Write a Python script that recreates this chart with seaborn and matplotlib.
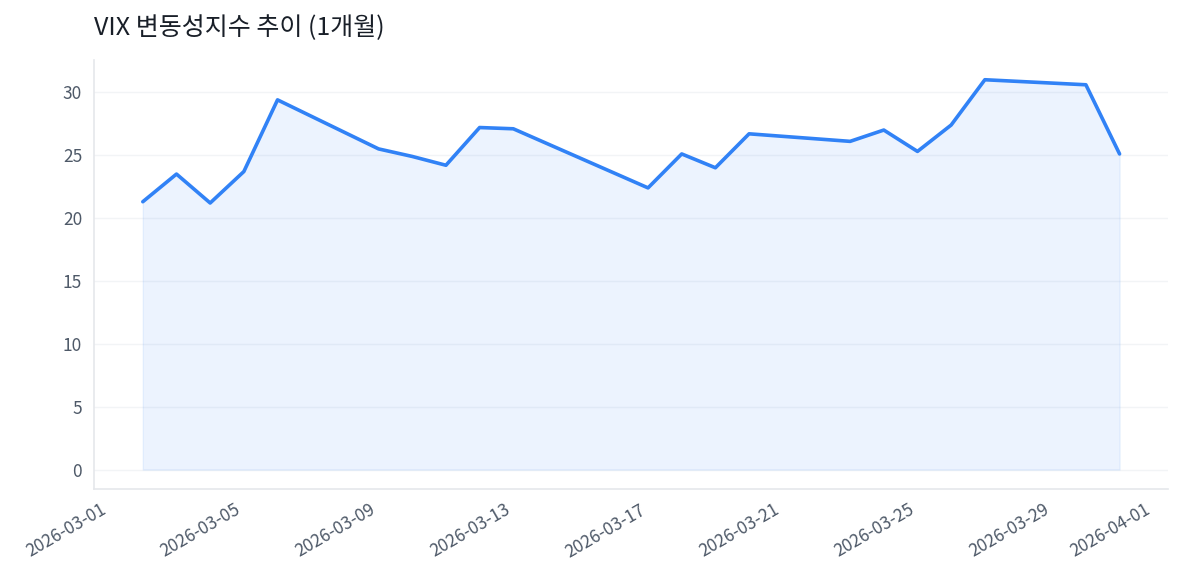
import numpy as np
import pandas as pd
import matplotlib
matplotlib.use('Agg')
import matplotlib.pyplot as plt
import matplotlib.dates as mdates
import seaborn as sns

# VIX closes (trading days, March 2026)
dates = ['2026-03-02', '2026-03-03', '2026-03-04', '2026-03-05', '2026-03-06',
         '2026-03-09', '2026-03-10', '2026-03-11', '2026-03-12', '2026-03-13',
         '2026-03-17', '2026-03-18', '2026-03-19', '2026-03-20',
         '2026-03-23', '2026-03-24', '2026-03-25', '2026-03-26', '2026-03-27',
         '2026-03-30', '2026-03-31']
vix = [21.3, 23.5, 21.2, 23.7, 29.4,
       25.5, 24.9, 24.2, 27.2, 27.1,
       22.4, 25.1, 24.0, 26.7,
       26.1, 27.0, 25.3, 27.4, 31.0,
       30.6, 25.1]
title = 'VIX 변동성지수 추이 (1개월)'

data = pd.DataFrame({'date': pd.to_datetime(dates), 'vix': vix})

sns.set_style('white')
plt.rcParams['font.family'] = ['Noto Sans CJK KR', 'DejaVu Sans']

line_col = '#3182f6'
spine_col = '#e5e7eb'
text_col = '#4e5968'

fig = plt.figure(figsize=(11.82, 5.85), dpi=100)
ax = fig.add_axes([0.0795, 0.164, 0.909, 0.733])

ax.fill_between(data['date'], data['vix'], 0, color=line_col, alpha=0.09, linewidth=1)
sns.lineplot(data=data, x='date', y='vix', color=line_col, linewidth=2.6, ax=ax)

ax.set_xlabel('')
ax.set_ylabel('')
ax.set_title(title, loc='left', fontsize=18, color='#191f28', pad=18)

ax.xaxis.set_major_locator(mdates.DayLocator(bymonthday=[1, 5, 9, 13, 17, 21, 25, 29]))
ax.xaxis.set_major_formatter(mdates.DateFormatter('%Y-%m-%d'))
plt.setp(ax.get_xticklabels(), rotation=30, ha='right')

ax.set_yticks([0, 5, 10, 15, 20, 25, 30])
ax.yaxis.grid(True, color='#f2f4f6', linewidth=1)
ax.set_axisbelow(True)

sns.despine(ax=ax)
for side in ['left', 'bottom']:
    ax.spines[side].set_color(spine_col)
    ax.spines[side].set_linewidth(1.2)
ax.tick_params(axis='both', colors=text_col, labelsize=12.5, length=5, width=1.2)
ax.tick_params(axis='both', color='#8b95a1')

fig.savefig('out.png', dpi=100)
